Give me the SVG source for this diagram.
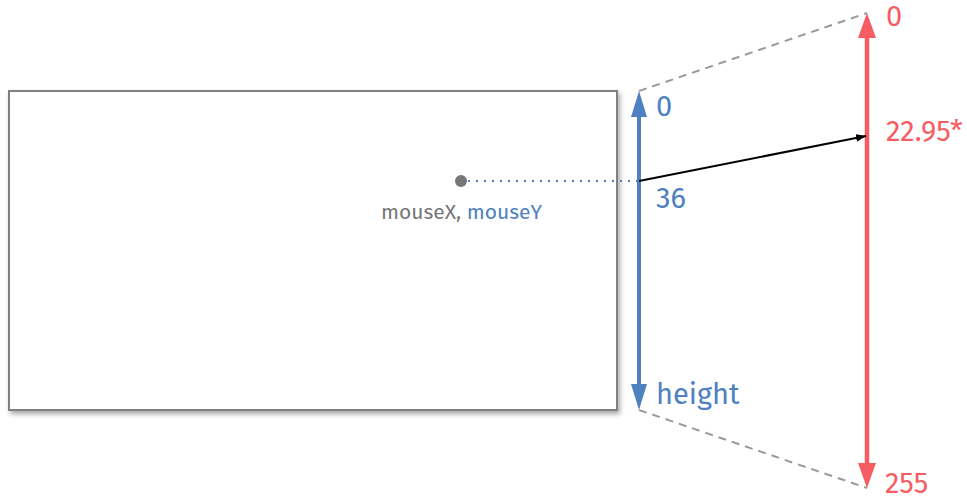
<svg xmlns="http://www.w3.org/2000/svg" width="967" height="501" viewBox="0 0 967 501">
  <defs>
    <filter id="shadow" x="-5%" y="-5%" width="110%" height="115%">
      <feDropShadow dx="2" dy="3" stdDeviation="2.5" flood-color="#000" flood-opacity="0.35"/>
    </filter>
    <marker id="blackHead" viewBox="0 0 10 10" refX="10" refY="5" markerWidth="10" markerHeight="8" markerUnits="userSpaceOnUse" orient="auto" preserveAspectRatio="none">
      <path d="M0,0 L10,5 L0,10 z" fill="#000"/>
    </marker>
  </defs>
  <style>
    .lbl { font-family: "Fira Sans", "Open Sans", "Noto Sans", sans-serif; font-size: 29px; }
    .blue { fill: #4f80bf; }
    .red { fill: #f65d63; }
    .grey { fill: #777777; }
    .dash { stroke: #9a9a9a; stroke-width: 2; stroke-dasharray: 8 6; fill: none; }
  </style>

  <!-- sketch canvas -->
  <g id="canvas">
    <rect x="9" y="91" width="608" height="319" fill="#ffffff" stroke="#808080" stroke-width="2" filter="url(#shadow)"/>
  </g>

  <!-- mouse position -->
  <g id="mouse">
    <circle cx="461" cy="181" r="6" fill="#777777"/>
    <text x="381" y="219" font-family="Fira Sans, Open Sans, Noto Sans, sans-serif" font-size="21"><tspan class="grey">mouseX,</tspan><tspan class="blue"> mouseY</tspan></text>
  </g>

  <!-- input range: 0..height -->
  <g id="inputRange">
    <line x1="639" y1="115" x2="639" y2="386" stroke="#4f80bf" stroke-width="4"/>
    <path d="M639,91 L647,117 L631,117 z" fill="#4f80bf"/>
    <path d="M639,410 L647,384 L631,384 z" fill="#4f80bf"/>
    <text class="lbl blue" x="656" y="116">0</text>
    <text class="lbl blue" x="656" y="208">36</text>
    <text class="lbl blue" x="656" y="404">height</text>
  </g>

  <!-- output range: 0..255 -->
  <g id="outputRange">
    <line x1="867" y1="36" x2="867" y2="465" stroke="#f65d63" stroke-width="4.5"/>
    <path d="M867,13 L876,38 L858,38 z" fill="#f65d63"/>
    <path d="M867,488 L876,463 L858,463 z" fill="#f65d63"/>
    <text class="lbl red" x="886" y="26">0</text>
    <text class="lbl red" x="886" y="141">22.95*</text>
    <text class="lbl red" x="885" y="493">255</text>
  </g>

  <!-- connectors -->
  <g id="connectors">
    <line class="dash" x1="639" y1="91" x2="867" y2="13"/>
    <line class="dash" x1="639" y1="410" x2="867" y2="488"/>
    <line x1="468" y1="181" x2="639" y2="181" stroke="#4f80bf" stroke-width="2" stroke-dasharray="2 6"/>
    <line x1="639" y1="181" x2="866" y2="136" stroke="#000" stroke-width="2" marker-end="url(#blackHead)"/>
  </g>
</svg>
